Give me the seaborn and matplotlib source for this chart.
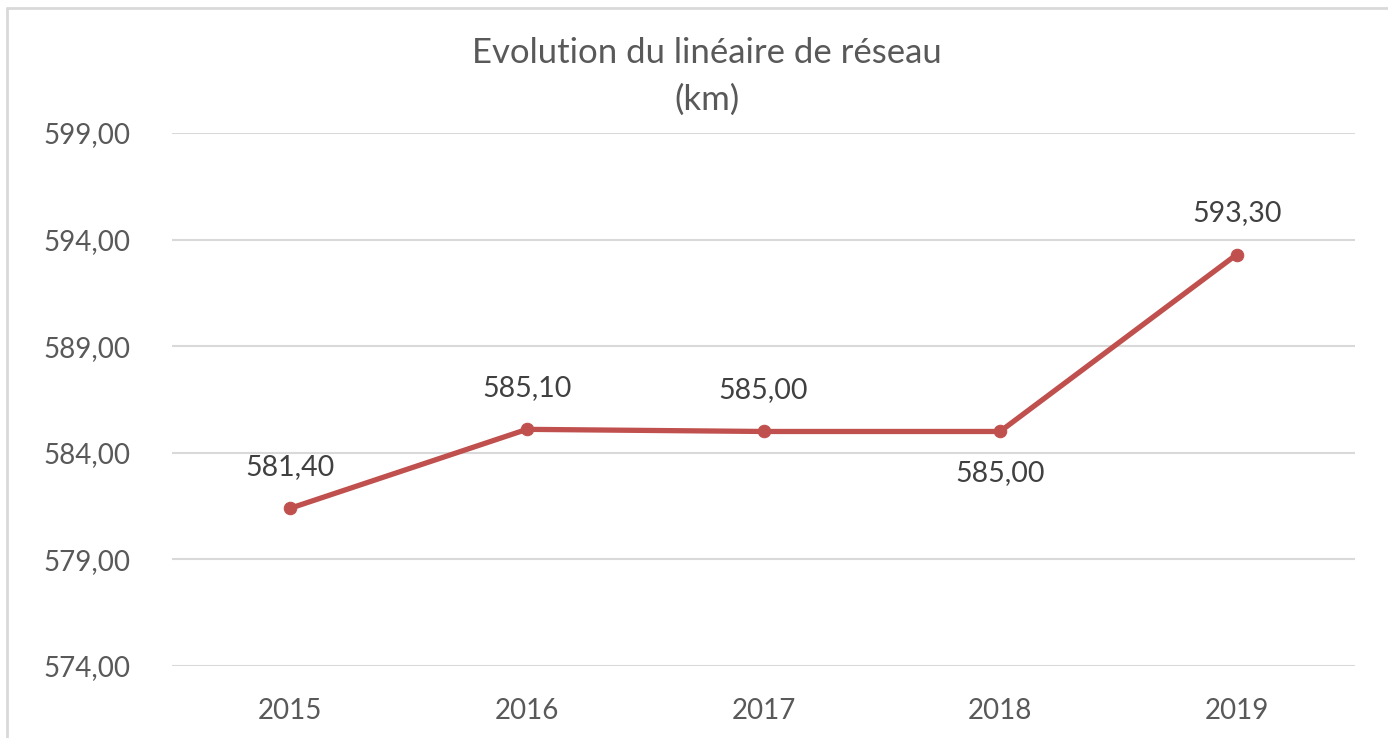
import matplotlib
matplotlib.use("Agg")
import matplotlib.pyplot as plt
import seaborn as sns
import pandas as pd
from matplotlib.lines import Line2D

# Data
years = ["2015", "2016", "2017", "2018", "2019"]
lengths_km = [581.40, 585.10, 585.00, 585.00, 593.30]
label_side = ["above", "above", "above", "below", "above"]
y_ticks = [574, 579, 584, 589, 594, 599]

title = "Evolution du linéaire de réseau\n(km)"

line_color = "#C0504D"
text_color = "#595959"
grid_color = "#D9D9D9"

sns.set_theme(style="white")
plt.rcParams["font.family"] = ["Lato", "DejaVu Sans"]

df = pd.DataFrame({"Année": years, "Linéaire": lengths_km})
df["pos"] = range(len(df))

fig = plt.figure(figsize=(13.88, 7.38), dpi=100)
ax = fig.add_axes([172 / 1388, 1 - 666 / 738, (1355 - 172) / 1388, (666 - 133) / 738])

sns.lineplot(
    data=df, x="pos", y="Linéaire", ax=ax,
    color=line_color, linewidth=3.8, marker="o", markersize=9,
    markeredgecolor=line_color, zorder=3
)

# Data labels
for i, (val, side) in enumerate(zip(lengths_km, label_side)):
    dy = 30 if side == "above" else -30
    ax.annotate(
        f"{val:.2f}".replace(".", ","),
        (i, val), xytext=(0, dy), textcoords="offset points",
        ha="center", va="center", fontsize=20.5, color="#404040"
    )

ax.set_xlim(-0.5, len(years) - 0.5)
ax.set_ylim(min(y_ticks), max(y_ticks))
ax.set_xticks(range(len(years)))
ax.set_xticklabels(years)
ax.set_yticks(y_ticks)
ax.set_yticklabels([f"{t:.2f}".replace(".", ",") for t in y_ticks])
ax.tick_params(axis="both", length=0, labelsize=20, labelcolor=text_color)
ax.tick_params(axis="y", pad=30)
ax.tick_params(axis="x", pad=23)
ax.set_xlabel("")
ax.set_ylabel("")

ax.yaxis.grid(True, color=grid_color, linewidth=1.5)
ax.xaxis.grid(False)
ax.set_axisbelow(True)
for spine in ax.spines.values():
    spine.set_visible(False)

fig.suptitle(title, x=707 / 1388, y=0.95, fontsize=25,
             color=text_color, linespacing=1.55, va="top")

# Chart border (left and top visible)
fig.add_artist(Line2D([7 / 1388, 7 / 1388], [0, 1 - 8 / 738],
                      transform=fig.transFigure, color=grid_color, linewidth=2))
fig.add_artist(Line2D([7 / 1388, 1], [1 - 8 / 738, 1 - 8 / 738],
                      transform=fig.transFigure, color=grid_color, linewidth=2))

fig.savefig("out.png", dpi=100)
plt.close(fig)
